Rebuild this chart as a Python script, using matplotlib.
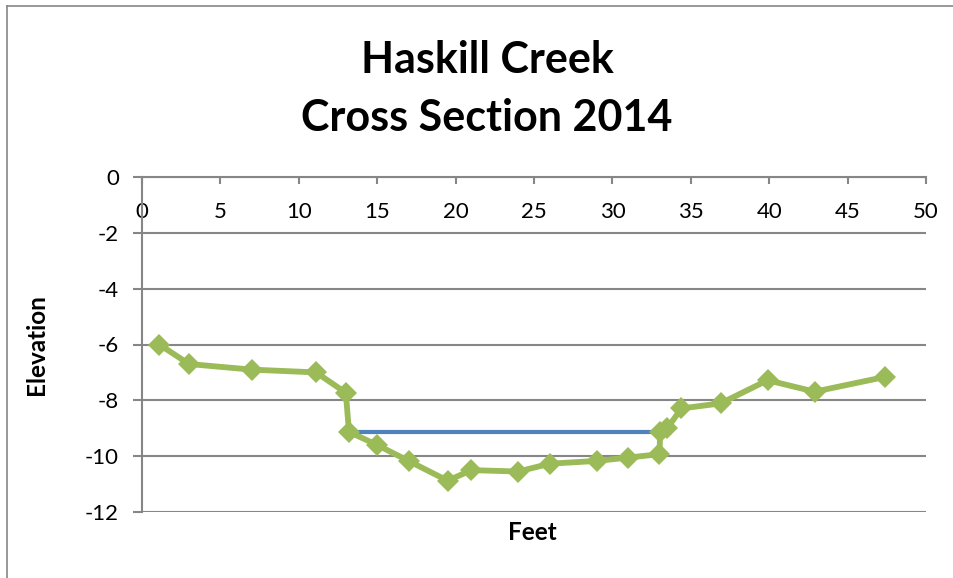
import matplotlib
matplotlib.use("Agg")
import matplotlib.pyplot as plt
from matplotlib.lines import Line2D

# Data
feet = [1.1, 3.0, 7.0, 11.1, 13.0, 13.2, 15.0, 17.0, 19.5, 21.0, 24.0, 26.0,
        29.0, 31.0, 33.0, 33.05, 33.5, 34.4, 36.9, 39.9, 42.9, 47.4]
elevation = [-6.0, -6.7, -6.9, -7.0, -7.73, -9.13, -9.6, -10.17, -10.88, -10.5,
             -10.55, -10.27, -10.17, -10.05, -9.93, -9.13, -9.0, -8.29, -8.11,
             -7.28, -7.69, -7.16]
water_x = [13.05, 33.8]
water_y = [-9.13, -9.13]
xticks = [0, 5, 10, 15, 20, 25, 30, 35, 40, 45, 50]
yticks = [0, -2, -4, -6, -8, -10, -12]

FONT = ["Lato", "DejaVu Sans"]
plt.rcParams['font.family'] = FONT

W, H = 954, 578
fig = plt.figure(figsize=(W / 100, H / 100), dpi=100)
L, R, T, B = 142, 926, 177, 512
ax = fig.add_axes([L / W, 1 - B / H, (R - L) / W, (B - T) / H])

gray = "#868686"
ax.set_xlim(0, 50)
ax.set_ylim(-12, 0)
ax.set_xticks(xticks)
ax.set_yticks(yticks)
ax.set_xticklabels([str(t) for t in xticks])
ax.set_yticklabels([str(t) for t in yticks])

ax.spines['bottom'].set_position(('data', 0))
ax.spines['top'].set_visible(False)
ax.spines['right'].set_visible(False)
for s in ('bottom', 'left'):
    ax.spines[s].set_color(gray)
    ax.spines[s].set_linewidth(1.5)

ax.tick_params(axis='x', direction='out', length=5, width=1.5, color=gray,
               labelsize=16, pad=13, labelcolor='black')
ax.tick_params(axis='y', direction='out', length=6.5, width=1.5, color=gray,
               labelsize=16, pad=10, labelcolor='black')
ax.yaxis.grid(True, color=gray, linewidth=1.5)
ax.set_axisbelow(True)

ax.plot(water_x, water_y, color="#4F81BD", linewidth=3, solid_capstyle='butt', zorder=3)
ax.plot(feet, elevation, color="#9BBB59", linewidth=4.2, marker='D', markersize=11,
        markeredgewidth=0, zorder=4, clip_on=False)

fig.text(487 / W, 1 - 60 / H, "Haskill Creek", ha='center', va='center',
         fontsize=31, fontweight='bold')
fig.text(487 / W, 1 - 118 / H, "Cross Section 2014", ha='center', va='center',
         fontsize=31, fontweight='bold')
fig.text(37 / W, 1 - 345 / H, "Elevation", ha='center', va='center', rotation=90,
         fontsize=17.5, fontweight='bold')
fig.text(532 / W, 1 - 533 / H, "Feet", ha='center', va='center',
         fontsize=17.5, fontweight='bold')

# outer frame (left and top edges of the chart area)
fig.add_artist(Line2D([7.5 / W, 7.5 / W], [0, 1 - 6 / H], transform=fig.transFigure,
                      color=gray, linewidth=1.2))
fig.add_artist(Line2D([7.5 / W, 1], [1 - 6 / H, 1 - 6 / H], transform=fig.transFigure,
                      color=gray, linewidth=1.2))

fig.savefig("out.png", dpi=100)
